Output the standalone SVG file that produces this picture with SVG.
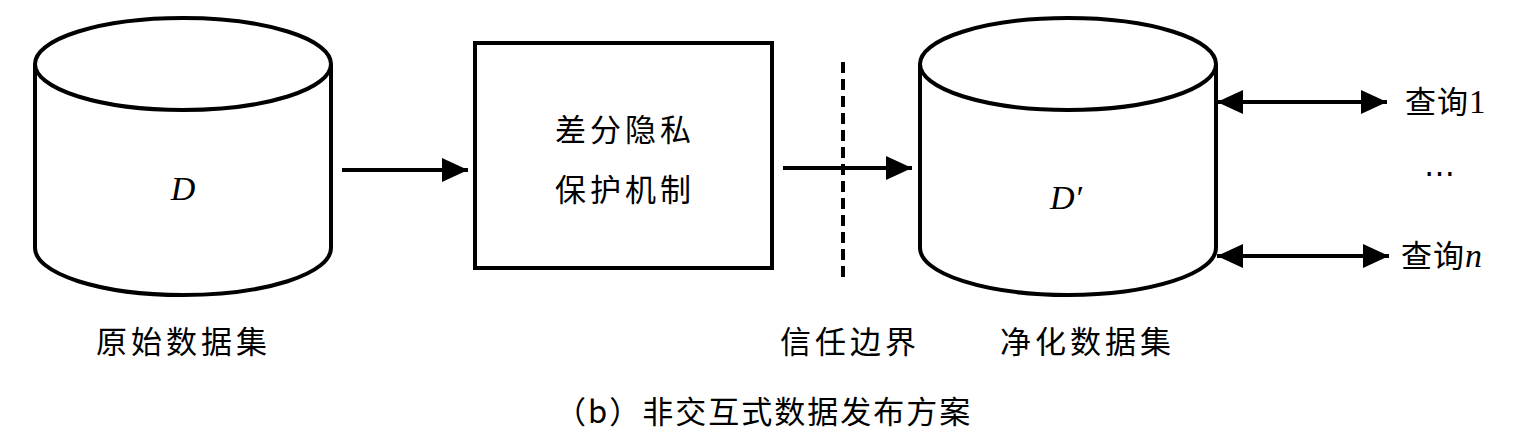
<svg xmlns="http://www.w3.org/2000/svg" width="1527" height="439" viewBox="0 0 1527 439">
<style>
.s{fill:none;stroke:#000;stroke-width:4}
.t{font-family:"Noto Sans CJK SC","Noto Sans",sans-serif;font-size:31px;fill:#000;letter-spacing:4px}
.m{font-family:"Liberation Serif",serif;font-style:italic;font-size:34px;fill:#000}
.c{stroke:#000;stroke-width:4;fill:none}
</style>
<defs>
<marker id="ah" viewBox="0 0 26 24" refX="26" refY="12" markerWidth="26" markerHeight="24" markerUnits="userSpaceOnUse" orient="auto-start-reverse">
<path d="M0,0 L26,12 L0,24 Z" fill="#000"/>
</marker>
</defs>
<rect width="1527" height="439" fill="#fff"/>
<g id="node-raw">
<path class="s" d="M35,64 L35,248 A148,47 0 0 0 331,248 L331,64"/>
<ellipse class="s" cx="183" cy="64" rx="148" ry="46" fill="#fff"/>
<text class="m" x="183" y="200" text-anchor="middle">D</text>
</g>
<g id="node-mech">
<rect class="s" x="475" y="43" width="297" height="225"/>
<text class="t" x="625" y="141" text-anchor="middle">差分隐私</text>
<text class="t" x="625" y="201" text-anchor="middle">保护机制</text>
</g>
<g id="node-clean">
<path class="s" d="M920,64 L920,248 A148,47 0 0 0 1216,248 L1216,64"/>
<ellipse class="s" cx="1068" cy="64" rx="148" ry="46" fill="#fff"/>
<text class="m" x="1066" y="209" text-anchor="middle">D′</text>
</g>
<g id="connectors">
<line class="c" x1="342" y1="170" x2="468" y2="170" marker-end="url(#ah)"/>
<line class="c" x1="783" y1="168" x2="912" y2="168" marker-end="url(#ah)"/>
<line class="c" x1="843" y1="62" x2="843" y2="280" stroke-dasharray="11,6"/>
<line class="c" x1="1217" y1="102" x2="1387" y2="102" marker-start="url(#ah)" marker-end="url(#ah)"/>
<line class="c" x1="1217" y1="256" x2="1389" y2="256" marker-start="url(#ah)" marker-end="url(#ah)"/>
</g>
<g id="labels">
<text class="t" x="1405" y="113" style="letter-spacing:1px">查询<tspan font-family="Liberation Serif" font-size="33">1</tspan></text>
<text class="t" x="1439" y="184" text-anchor="middle" style="letter-spacing:0;font-family:'Liberation Serif',serif">⋯</text>
<text class="t" x="1401" y="267" style="letter-spacing:1px">查询<tspan class="m">n</tspan></text>
<text class="t" x="96" y="353">原始数据集</text>
<text class="t" x="780" y="353">信任边界</text>
<text class="t" x="1000" y="353">净化数据集</text>
<text class="t" x="555" y="423" style="letter-spacing:2px">（b）非交互式数据发布方案</text>
</g>
</svg>
